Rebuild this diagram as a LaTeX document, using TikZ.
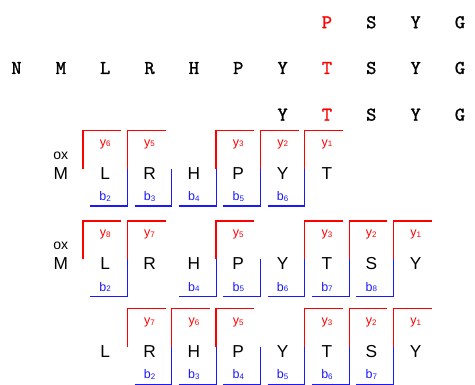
\documentclass[tikz,border=0pt]{standalone}
\usepackage{fontspec}
\setsansfont{Liberation Sans}
\setmonofont{lmmono10-regular.otf}[FakeBold=1.2]
\usetikzlibrary{positioning}
\definecolor{ared}{RGB}{255,0,0}
\definecolor{abl}{RGB}{25,25,255}
\newcommand{\lsub}[1]{\raisebox{-0.4pt}{\fontsize{8}{8}\selectfont #1}}
\newcommand{\topbr}[2]{%
\draw[ytop] ([shift={(-22.2pt,4.8pt)}]#1.center) -- ++(0,38pt) -- ++(38.2pt,0);
\node[ylab] (#1y) at ([yshift=26.8pt]#1.center) {y\lsub{#2}};}
\newcommand{\botbr}[2]{%
\draw[bbot] ([shift={(-15pt,-32.7pt)}]#1.center) -- ++(37.2pt,0) -- ++(0,37.5pt);
\node[blab] (#1b) at ([yshift=-27.5pt]#1.center) {b\lsub{#2}};}

\begin{document}
\begin{tikzpicture}[x=1pt,y=1pt,node distance=44.35pt,
  mono/.style={font=\ttfamily\fontsize{19.5}{19.5}\selectfont,text height=11.7pt,text depth=0pt,inner sep=0pt},
  hot/.style={mono,text=ared},
  let/.style={font=\sffamily\fontsize{17.3}{17.3}\selectfont,text height=12.4pt,text depth=0pt,inner sep=0pt},
  oxlab/.style={font=\sffamily\fontsize{14}{14}\selectfont,text height=7.3pt,text depth=0pt,inner sep=0pt},
  ylab/.style={font=\sffamily\fontsize{12.5}{12.5}\selectfont,text=ared,anchor=base,inner sep=0pt},
  blab/.style={font=\sffamily\fontsize{12.5}{12.5}\selectfont,text=abl,anchor=base,inner sep=0pt},
  ytop/.style={ared,line width=1.2pt},
  bbot/.style={abl,line width=1.2pt}]
\useasboundingbox (0,0) rectangle (475,-385);

\node[hot]  (a8)  at (326.95,-22.4)  {P};
\node[mono] (a9)  [right of=a8]   {S};
\node[mono] (a10) [right of=a9]   {Y};
\node[mono] (a11) [right of=a10]  {G};

\node[mono] (b1)  at (16.5,-68.1)  {N};
\node[mono] (b2)  [right of=b1]   {M};
\node[mono] (b3)  [right of=b2]   {L};
\node[mono] (b4)  [right of=b3]   {R};
\node[mono] (b5)  [right of=b4]   {H};
\node[mono] (b6)  [right of=b5]   {P};
\node[mono] (b7)  [right of=b6]   {Y};
\node[hot]  (b8)  [right of=b7]   {T};
\node[mono] (b9)  [right of=b8]   {S};
\node[mono] (b10) [right of=b9]   {Y};
\node[mono] (b11) [right of=b10]  {G};

\node[mono] (c7)  at (282.6,-114.8) {Y};
\node[hot]  (c8)  [right of=c7]   {T};
\node[mono] (c9)  [right of=c8]   {S};
\node[mono] (c10) [right of=c9]   {Y};
\node[mono] (c11) [right of=c10]  {G};

\node[let]  (d2)  at (60.85,-173.4) {M};
\node[oxlab] (d2o) [above of=d2,node distance=17.5pt] {ox};
\node[let]  (d3)  [right of=d2]   {L};
\node[let]  (d4)  [right of=d3]   {R};
\node[let]  (d5)  [right of=d4]   {H};
\node[let]  (d6)  [right of=d5]   {P};
\node[let]  (d7)  [right of=d6]   {Y};
\node[let]  (d8)  [right of=d7]   {T};

\node[let]  (e2)  at (60.85,-263.8) {M};
\node[oxlab] (e2o) [above of=e2,node distance=17.5pt] {ox};
\node[let]  (e3)  [right of=e2]   {L};
\node[let]  (e4)  [right of=e3]   {R};
\node[let]  (e5)  [right of=e4]   {H};
\node[let]  (e6)  [right of=e5]   {P};
\node[let]  (e7)  [right of=e6]   {Y};
\node[let]  (e8)  [right of=e7]   {T};
\node[let]  (e9)  [right of=e8]   {S};
\node[let]  (e10) [right of=e9]   {Y};

\node[let]  (f3)  at (105.2,-351.5) {L};
\node[let]  (f4)  [right of=f3]   {R};
\node[let]  (f5)  [right of=f4]   {H};
\node[let]  (f6)  [right of=f5]   {P};
\node[let]  (f7)  [right of=f6]   {Y};
\node[let]  (f8)  [right of=f7]   {T};
\node[let]  (f9)  [right of=f8]   {S};
\node[let]  (f10) [right of=f9]   {Y};

\topbr{d3}{6} \topbr{d4}{5} \topbr{d6}{3} \topbr{d7}{2} \topbr{d8}{1}
\botbr{d3}{2} \botbr{d4}{3} \botbr{d5}{4} \botbr{d6}{5} \botbr{d7}{6}

\topbr{e3}{8} \topbr{e4}{7} \topbr{e6}{5} \topbr{e8}{3} \topbr{e9}{2} \topbr{e10}{1}
\botbr{e3}{2} \botbr{e5}{4} \botbr{e6}{5} \botbr{e7}{6} \botbr{e8}{7} \botbr{e9}{8}

\topbr{f4}{7} \topbr{f5}{6} \topbr{f6}{5} \topbr{f8}{3} \topbr{f9}{2} \topbr{f10}{1}
\botbr{f4}{2} \botbr{f5}{3} \botbr{f6}{4} \botbr{f7}{5} \botbr{f8}{6} \botbr{f9}{7}
\end{tikzpicture}
\end{document}
